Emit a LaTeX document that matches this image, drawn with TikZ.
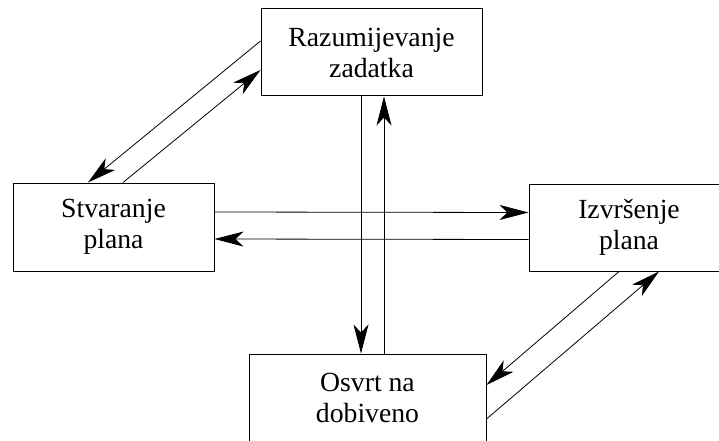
\documentclass[tikz,border=0pt]{standalone}
\usepackage{fontspec}
\setmainfont{Liberation Serif}
\usetikzlibrary{arrows.meta}
\tikzset{
	blok/.style={draw, line width=1pt, inner sep=0pt, align=center,
		font={\fontsize{27.7pt}{31pt}\selectfont}},
	veza/.style={line width=0.8pt, -{Stealth[length=29pt,width=15pt,inset=8pt]}},
}
\begin{document}
\begin{tikzpicture}[x=1pt,y=-1pt]
	\useasboundingbox (0,0) rectangle (719,441);
	\clip (0,0) rectangle (719,441);
	
	\node [blok, minimum width=221pt, minimum height=87pt] (raz) at (371.5, 52.5) {Razumijevanje\\zadatka};
	\node [blok, minimum width=201pt, minimum height=88pt] (stv) at (113.5, 227) {Stvaranje\\plana};
	\node [blok, minimum width=200pt, minimum height=87pt] (izv) at (629, 227.5) {Izvršenje\\plana};
	\node [blok, minimum width=237pt, minimum height=87pt] (osv) at (367.5, 397.5) {Osvrt na\\dobiveno};
	
	\draw [veza] ([yshift=11.5pt]raz.west) -- ([xshift=-25.5pt]stv.north);
	\draw [veza] ([xshift=9.5pt]stv.north) -- ([yshift=-17.5pt]raz.west);
	
	\draw [veza] ([yshift=15pt]stv.east) -- ([yshift=15pt]izv.west);
	\draw [veza] ([yshift=-12pt]izv.west) -- ([yshift=-12pt]stv.east);
	
	\draw [veza] ([xshift=-10.5pt]raz.south) -- ([xshift=-10.5pt]raz.south |- osv.north);
	\draw [veza] ([xshift=12.5pt]raz.south |- osv.north) -- ([xshift=12.5pt]raz.south);
	
	\draw [veza] ([xshift=-10pt]izv.south) -- ([yshift=12.5pt]osv.east);
	\draw [veza] ([yshift=-21.5pt]osv.east) -- ([xshift=30pt]izv.south);
	
\end{tikzpicture}
\end{document}
